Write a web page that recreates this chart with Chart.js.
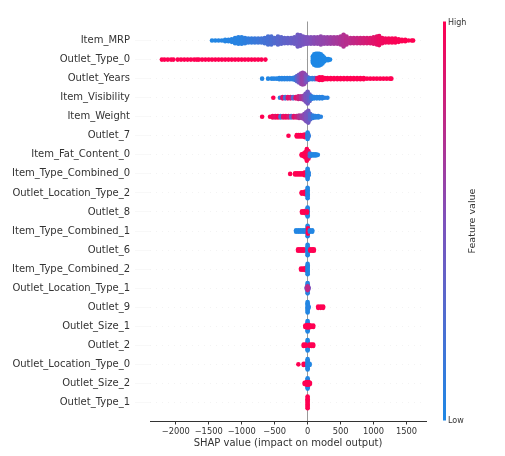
<!DOCTYPE html>
<html>
<head>
<meta charset="utf-8">
<script src="https://cdn.jsdelivr.net/npm/chart.js@4.4.0/dist/chart.umd.min.js"></script>
<style>
  html, body { margin: 0; padding: 0; background: #fff; }
</style>
</head>
<body>
<canvas id="shapChart" width="505" height="456"></canvas>
<script>
// feature names, top to bottom
const features = [
    'Item_MRP', 'Outlet_Type_0', 'Outlet_Years', 'Item_Visibility', 'Item_Weight',
    'Outlet_7', 'Item_Fat_Content_0', 'Item_Type_Combined_0', 'Outlet_Location_Type_2',
    'Outlet_8', 'Item_Type_Combined_1', 'Outlet_6', 'Item_Type_Combined_2',
    'Outlet_Location_Type_1', 'Outlet_9', 'Outlet_Size_1', 'Outlet_2',
    'Outlet_Location_Type_0', 'Outlet_Size_2', 'Outlet_Type_1'
];

const xTicks = [-2000, -1500, -1000, -500, 0, 500, 1000, 1500];

// each entry: [SHAP value, number of stacked dots, feature value 0..1]
const itemMRP = [[-1450,1,0.02],[-1400,1,0.02],[-1350,1,0.03],[-1300,1,0.03],[-1250,2,0.03],[-1200,2,0.04],[-1150,3,0.04],[-1100,5,0.05],[-1050,6,0.05],[-1000,6,0.06],[-950,5,0.08],[-900,4,0.1],[-850,4,0.12],[-800,4,0.14],[-750,4,0.16],[-700,4,0.18],[-650,5,0.2],[-600,7,0.22],[-550,7,0.24],[-500,5,0.27],[-450,7,0.3],[-400,6,0.32],[-350,5,0.34],[-300,5,0.36],[-250,5,0.38],[-200,6,0.4],[-150,10,0.42],[-110,9,0.44],[-70,7,0.46],[-30,6,0.48],[0,6,0.5],[50,6,0.52],[100,6,0.54],[150,6,0.56],[200,7,0.57],[250,6,0.58],[300,6,0.6],[350,6,0.62],[400,6,0.64],[450,6,0.66],[500,7,0.68],[545,10,0.7],[590,7,0.72],[650,5,0.74],[700,5,0.76],[750,5,0.78],[800,5,0.8],[850,5,0.82],[900,5,0.84],[950,5,0.86],[1000,6,0.88],[1050,7,0.9],[1085,8,0.92],[1130,5,0.94],[1180,4,0.95],[1230,4,0.96],[1280,4,0.97],[1330,4,0.98],[1380,3,0.98],[1430,2,0.99],[1480,2,1],[1530,1,1],[1580,1,1],[1600,1,1]];
const outletType0 = [[-2210,1,1],[-2170,1,1],[-2120,1,1],[-2070,1,1],[-2035,1,1],[-1970,1,1],[-1920,1,1],[-1870,1,1],[-1820,1,1],[-1770,1,1],[-1720,1,1],[-1680,1,1],[-1650,1,1],[-1600,1,1],[-1550,1,1],[-1500,1,1],[-1450,1,1],[-1400,1,1],[-1350,1,1],[-1300,1,1],[-1250,1,1],[-1200,1,1],[-1150,1,1],[-1100,1,1],[-1050,1,1],[-1000,1,1],[-950,1,1],[-900,1,1],[-850,1,1],[-800,1,1],[-750,1,1],[-700,1,1],[-640,1,1],[80,6,0],[100,9,0],[125,10,0],[150,10,0],[175,10,0],[200,9,0],[225,7,0],[250,4,0],[280,2,0],[310,2,0],[340,1,0]];
const outletYears = [[-690,1,0.02],[-600,1,0.02],[-545,1,0.02],[-510,1,0.03],[-470,1,0.03],[-430,2,0.03],[-390,2,0.04],[-350,2,0.04],[-310,2,0.05],[-270,2,0.06],[-230,2,0.08],[-190,3,0.12],[-160,5,0.3],[-130,7,0.45],[-100,9,0.55],[-75,10,0.6],[-50,9,0.58],[-25,6,0.5],[0,3,0.4],[30,2,0.15],[70,2,0.1],[110,2,0.2],[145,2,0.9],[180,3,1],[220,3,1],[260,2,1],[300,2,1],[350,2,1],[400,2,1],[450,2,1],[500,2,1],[550,2,1],[600,2,1],[650,2,1],[700,2,1],[750,2,1],[800,2,1],[850,2,1],[900,1,1],[950,1,1],[1000,1,1],[1050,1,1],[1100,1,1],[1150,1,1],[1200,1,1],[1250,1,1],[1270,1,1]];
const itemVisibility = [[-520,1,1],[-420,1,0.1],[-380,2,0.9],[-340,2,0.2],[-300,2,0.9],[-260,2,0.85],[-220,2,0.3],[-180,2,0.9],[-140,3,0.8],[-100,3,0.7],[-60,4,0.6],[-30,7,0.5],[0,10,0.45],[30,6,0.35],[60,3,0.1],[100,2,0.05],[140,2,0.05],[180,2,0.05],[220,2,0.05],[260,1,0.05],[300,1,0.05]];
const itemWeight = [[-690,1,1],[-570,1,1],[-530,2,0.95],[-490,2,0.9],[-450,2,1],[-410,2,0.2],[-370,2,0.9],[-330,2,0.95],[-290,2,0.85],[-250,2,0.3],[-210,2,0.9],[-170,2,0.8],[-130,3,0.7],[-90,3,0.6],[-50,5,0.55],[-20,8,0.5],[10,10,0.45],[40,5,0.3],[80,3,0.1],[120,2,0.05],[160,2,0.05],[200,1,0.05]];
const outlet7 = [[-290,1,1],[-165,2,1],[-135,2,1],[-105,2,1],[-75,2,1],[-45,3,0.95],[-20,2,1],[0,6,0.02],[15,2,0.1]];
const itemFat0 = [[-90,2,1],[-60,3,1],[-35,5,1],[-12,10,1],[12,7,0.95],[35,3,0.2],[65,2,0.02],[95,2,0.02],[125,2,0.02],[155,1,0.02]];
const itemType0 = [[-265,1,1],[-190,2,1],[-160,2,1],[-130,2,1],[-100,2,1],[-70,2,1],[-45,3,1],[-20,3,1],[0,9,0.02],[15,3,0.05]];
const outletLoc2 = [[-90,2,1],[-60,2,1],[-35,3,1],[-15,3,1],[0,9,0.02]];
const outlet8 = [[-85,2,1],[-55,2,1],[-30,3,1],[0,8,0.02],[-10,2,1]];
const itemType1 = [[-175,2,0.02],[-140,2,0.02],[-105,2,0.02],[-70,2,0.02],[-40,2,0.02],[0,9,0.02],[5,5,1],[35,2,0.02],[70,2,0.02]];
const outlet6 = [[-145,2,1],[-115,2,1],[-85,2,1],[-55,2,1],[0,9,0.02],[40,2,1],[70,2,1],[95,2,1]];
const itemType2 = [[-100,2,1],[-70,2,1],[-45,2,1],[-20,3,1],[0,9,0.02]];
const outletLoc1 = [[0,9,0.05],[-15,2,0.5],[15,2,0.5],[0,4,0.75]];
const outlet9 = [[0,9,0.02],[15,2,0.05],[160,2,1],[200,2,1],[235,2,1]];
const outletSize1 = [[0,9,0.02],[-35,2,1],[-10,3,1],[20,3,1],[50,2,1],[85,2,1]];
const outlet2 = [[0,9,0.02],[-60,2,1],[-30,2,1],[30,2,1],[60,2,1],[85,2,1]];
const outletLoc0 = [[-140,1,1],[-60,2,1],[-30,2,1],[0,9,0.02],[30,2,0.02]];
const outletSize2 = [[0,9,0.02],[-45,2,1],[-15,3,1],[15,3,1],[35,2,1]];
const outletType1 = [[0,10,1]];

const rows = [itemMRP, outletType0, outletYears, itemVisibility, itemWeight, outlet7, itemFat0,
    itemType0, outletLoc2, outlet8, itemType1, outlet6, itemType2, outletLoc1, outlet9,
    outletSize1, outlet2, outletLoc0, outletSize2, outletType1];

// shap red_blue colour map (low = blue, high = red)
function shapColor(t) {
    const lo = [30, 136, 229], mid = [126, 82, 188], hi = [255, 0, 82];
    const a = t < 0.5 ? lo : mid, b = t < 0.5 ? mid : hi;
    const f = t < 0.5 ? t * 2 : (t - 0.5) * 2;
    return 'rgb(' + a.map((v, i) => Math.round(v + (b[i] - v) * f)).join(',') + ')';
}

// stack dots of a bin around the row centre (swarm layout)
const STACK = 1.3 / 19.05;
const points = [];
rows.forEach((row, i) => {
    const yc = features.length - 1 - i;
    row.forEach(([v, n, fv]) => {
        for (let k = 0; k < n; k++) {
            points.push({ x: v, y: yc + (k - (n - 1) / 2) * STACK, fv: fv });
        }
    });
});

const colorBar = {
    id: 'colorBar',
    afterDraw(chart) {
        const { ctx, chartArea } = chart;
        const x = chartArea.right + 17, w = 3;
        const top = chartArea.top, bottom = chartArea.bottom - 1;
        const g = ctx.createLinearGradient(0, bottom, 0, top);
        for (let s = 0; s <= 10; s++) g.addColorStop(s / 10, shapColor(s / 10));
        ctx.save();
        ctx.fillStyle = g;
        ctx.fillRect(x, top, w, bottom - top);
        ctx.fillStyle = '#333';
        ctx.font = '8px "DejaVu Sans"';
        ctx.textBaseline = 'middle';
        ctx.fillText('High', x + w + 2, top + 1);
        ctx.fillText('Low', x + w + 2, bottom);
        ctx.translate(chart.width - 32, (top + bottom) / 2);
        ctx.rotate(-Math.PI / 2);
        ctx.textAlign = 'center';
        ctx.font = '9.5px "DejaVu Sans"';
        ctx.fillText('Feature value', 0, 0);
        ctx.restore();
    }
};

const ctx = document.getElementById('shapChart').getContext('2d');
new Chart(ctx, {
    type: 'scatter',
    data: {
        datasets: [{
            data: points,
            pointRadius: 2.3,
            pointHoverRadius: 2.3,
            borderWidth: 0,
            backgroundColor: c => shapColor(c.raw ? c.raw.fv : 0)
        }]
    },
    options: {
        responsive: false,
        animation: false,
        layout: { padding: { top: 21.5, right: 79, bottom: 0, left: 0 } },
        plugins: {
            legend: { display: false },
            tooltip: { enabled: false }
        },
        scales: {
            x: {
                type: 'linear',
                min: -2390,
                max: 1795,
                afterBuildTicks: a => { a.ticks = xTicks.map(v => ({ value: v })); },
                afterFit: s => { s.height = 34.5; },
                border: { display: true, color: '#333', width: 1 },
                grid: {
                    color: c => (c.tick && c.tick.value === 0) ? '#999' : 'rgba(0,0,0,0)',
                    tickColor: '#333',
                    tickLength: 3,
                    lineWidth: 1
                },
                ticks: {
                    color: '#333',
                    font: { family: 'DejaVu Sans', size: 8.3 },
                    padding: 2,
                    maxRotation: 0,
                    callback: v => v < 0 ? '\u2212' + Math.abs(v) : String(v)
                },
                title: {
                    display: true,
                    text: 'SHAP value (impact on model output)',
                    color: '#333',
                    font: { family: 'DejaVu Sans', size: 10 },
                    padding: { top: 2, bottom: 7 }
                }
            },
            y: {
                type: 'linear',
                min: -1,
                max: 20,
                afterBuildTicks: a => { a.ticks = features.map((f, i) => ({ value: i })); },
                afterFit: s => { s.width = 150; },
                border: { display: false, dash: [1, 5] },
                grid: { color: '#e6e6e6', lineWidth: 0.5, tickLength: 15, tickColor: '#f0f0f0' },
                ticks: {
                    color: '#333',
                    font: { family: 'DejaVu Sans', size: 10 },
                    padding: 5,
                    callback: v => features[features.length - 1 - v]
                }
            }
        }
    },
    plugins: [colorBar]
});
</script>
</body>
</html>
